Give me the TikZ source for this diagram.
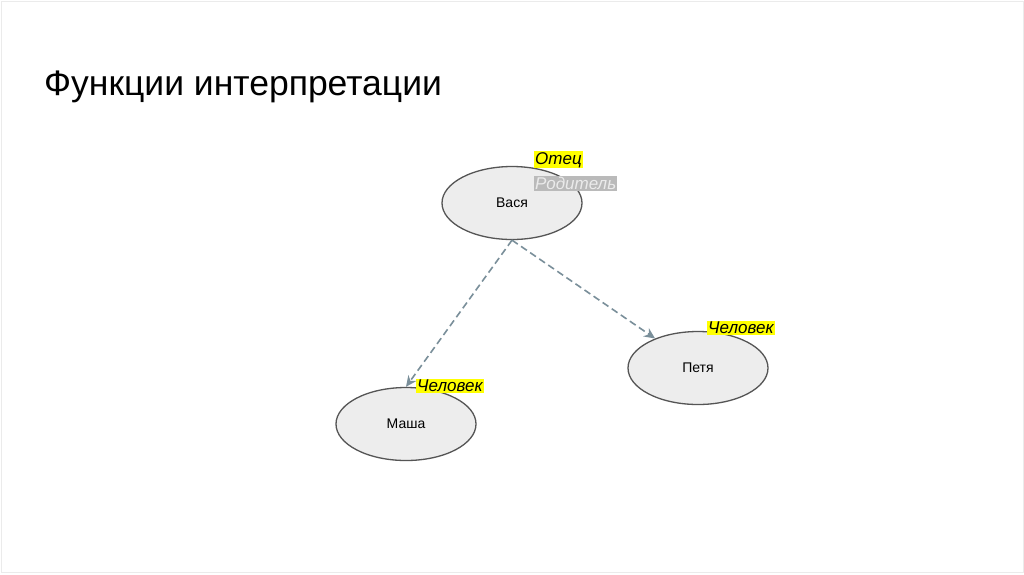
\documentclass[tikz,border=0pt]{standalone}
\usepackage{fontspec}
\setmainfont{Liberation Sans}
\usetikzlibrary{arrows.meta,shapes.geometric}
\definecolor{fillg}{HTML}{EDEDED}
\definecolor{edgeg}{HTML}{555555}
\definecolor{arr}{HTML}{7A8F9A}
\definecolor{hl}{HTML}{FFFF00}
\tikzset{
  ent/.style={ellipse,draw=edgeg,fill=fillg,line width=1.3pt,minimum width=140pt,minimum height=73pt,inner sep=0pt,font=\fontsize{14}{16}\selectfont},
  tag/.style={fill=hl,inner sep=1pt,anchor=north west,font=\itshape\fontsize{17}{19}\selectfont},
  rel/.style={draw=arr,dashed,dash pattern=on 7pt off 4pt,line width=1.6pt,-{Stealth[length=11pt,width=10pt]}}
}
\begin{document}
\begin{tikzpicture}[x=1pt,y=-1pt]
\useasboundingbox (0,0) rectangle (1024,574);
\fill[white] (0,0) rectangle (1024,574);
\draw[black!8] (1,1) rectangle (1023,572);
\node[anchor=base west,inner sep=0pt,font=\fontsize{35.5}{40}\selectfont] (title) at (44,95) {Функции интерпретации};
\node[ent] (vasya) at (512,203) {Вася};
\node[ent] (petya) at (698,368) {Петя};
\node[ent] (masha) at (406,424) {Маша};
\node[tag] (otec) at (534,151) {Отец};
\node[tag,fill=black!27,text=black!8] (rod) at (534,176) {Родитель};
\node[tag] (ch1) at (707,321) {Человек};
\node[tag] (ch2) at (416,379) {Человек};
\draw[rel] (vasya.south) -- (masha.north);
\draw[rel] (vasya.south) -- (petya);
\end{tikzpicture}
\end{document}
